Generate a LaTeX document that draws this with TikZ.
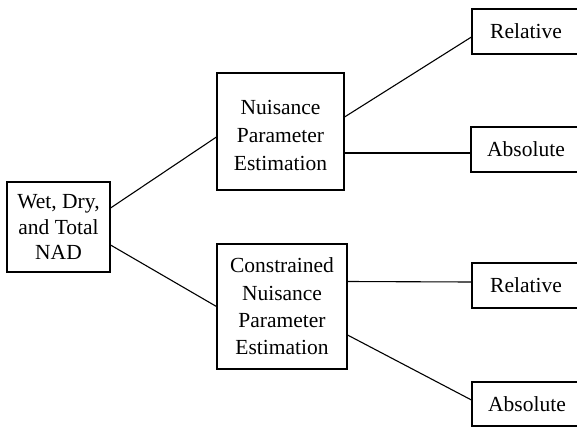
\documentclass[tikz,border=0pt]{standalone}
\usepackage{fontspec}
\setmainfont{Liberation Serif}
\newfontfamily\tnr{Liberation Serif}
\begin{document}
\begin{tikzpicture}[x=1pt,y=-1pt,
  box/.style={draw,line width=1.1pt,rectangle,inner sep=0pt,align=center,
    font=\tnr\fontsize{21.5}{25.5}\selectfont},
  link/.style={line width=1.1pt}]
\useasboundingbox (0,0) rectangle (577,428);
\clip (0,0) rectangle (577,428);
\node[box,minimum width=103pt,minimum height=90pt] (L) at (58.5,227) {Wet, Dry,\\and Total\\NAD};
\node[box,minimum width=127pt,minimum height=117pt,font=\tnr\fontsize{21.5}{28}\selectfont] (N1) at (280.5,131.5) {\\[-6pt]Nuisance\\Parameter\\Estimation};
\node[box,minimum width=130pt,minimum height=125pt,font=\tnr\fontsize{21.5}{27.3}\selectfont] (N2) at (282,306.5) {Constrained\\Nuisance\\Parameter\\Estimation};
\node[box,minimum width=110pt,minimum height=45pt] (R1) at (527,31.5) {\hspace*{-2pt}Relative};
\node[box,minimum width=110pt,minimum height=45pt] (A1) at (526,149.5) {Absolute};
\node[box,minimum width=110pt,minimum height=45pt] (R2) at (527,285.5) {\hspace*{-2pt}Relative};
\node[box,minimum width=110pt,minimum height=44pt] (A2) at (527,404) {Absolute};
\draw[link] ([yshift=19pt]L.east) -- (N1.west |- 0,137);
\draw[link] ([yshift=-18pt]L.east) -- (N2.west);
\draw[link] ([yshift=14.5pt]N1.east) -- ([yshift=-5.5pt]R1.west);
\draw[link] ([yshift=-21.5pt]N1.east) -- ([yshift=-3.5pt]A1.west);
\draw[link] ([yshift=25pt]N2.east) -- ([yshift=3.5pt]R2.west);
\draw[link] ([yshift=-28.5pt]N2.east) -- ([yshift=4pt]A2.west);
\end{tikzpicture}
\end{document}
